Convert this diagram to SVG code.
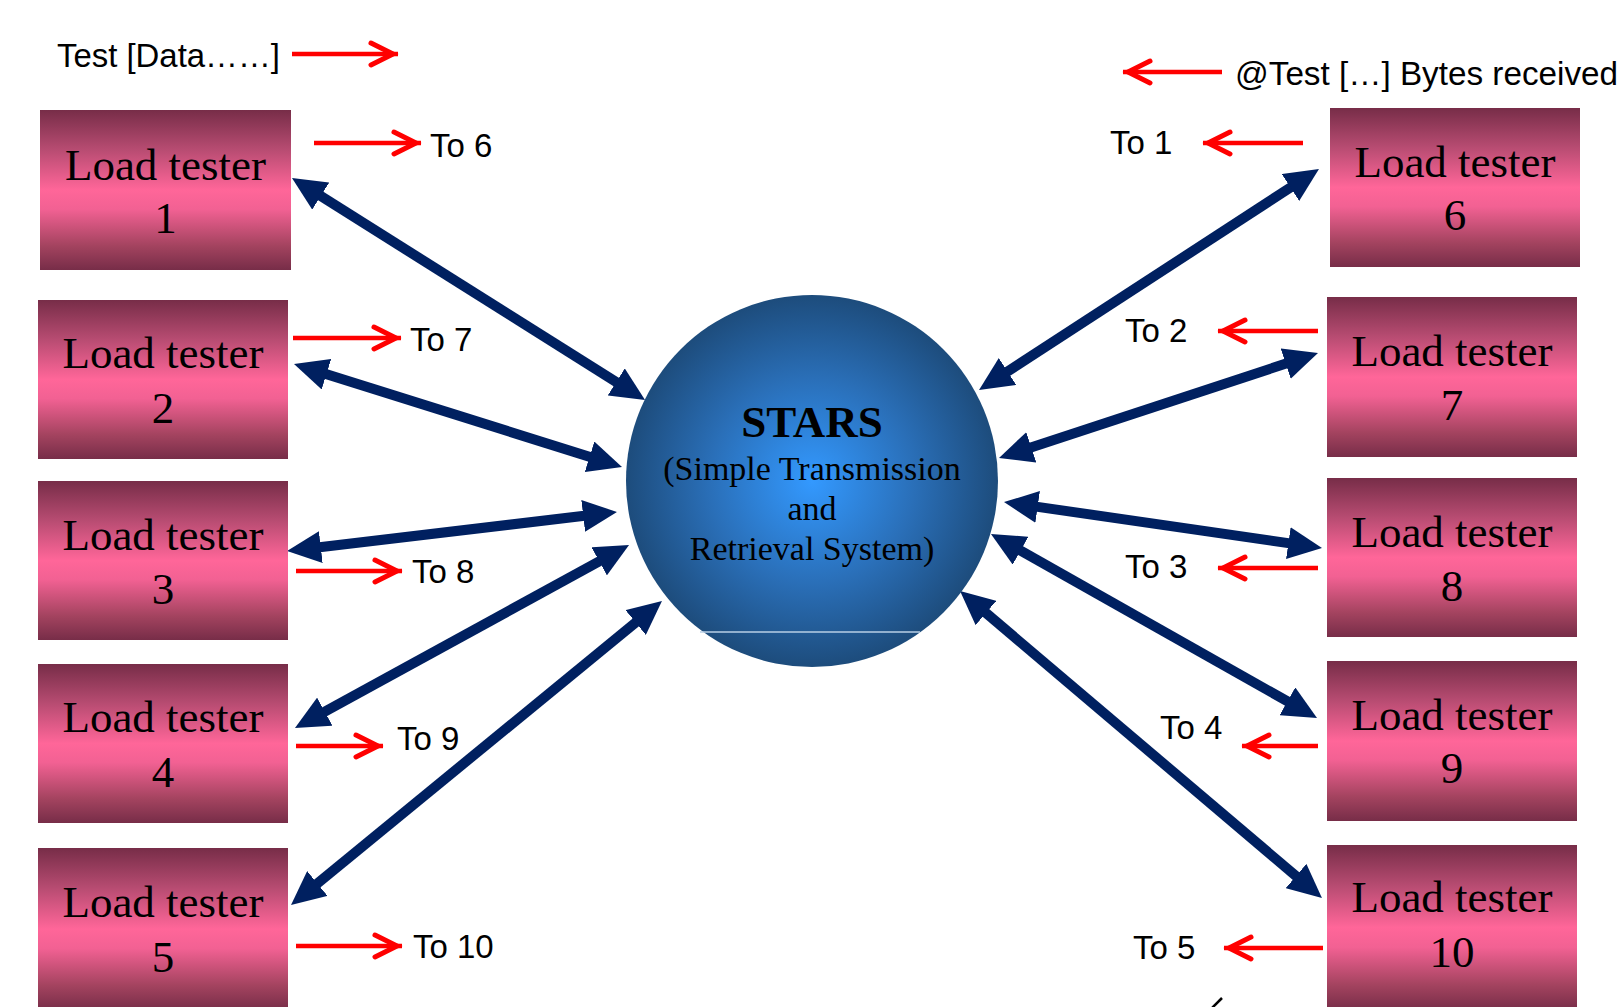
<svg xmlns="http://www.w3.org/2000/svg" width="1620" height="1007" viewBox="0 0 1620 1007">
<style>
.box{fill:url(#boxGrad)}
.lt{font-family:"Liberation Serif","Times New Roman",serif;font-size:45px;fill:#000;text-anchor:middle}
.lbl{font-family:"Liberation Sans",Arial,sans-serif;font-size:33px;fill:#000}
.nav{stroke:#002060;stroke-width:10;fill:none;marker-start:url(#navHead);marker-end:url(#navHead)}
.red{stroke:#ff0000;stroke-width:4.5;fill:none;marker-end:url(#redHead)}
.ct{font-family:"Liberation Serif","Times New Roman",serif;fill:#000;text-anchor:middle}
</style>
<defs>
<linearGradient id="boxGrad" x1="0" y1="0" x2="0" y2="1">
<stop offset="0" stop-color="#772d48"/>
<stop offset="0.25" stop-color="#b84c72"/>
<stop offset="0.5" stop-color="#ff6699"/>
<stop offset="0.62" stop-color="#f26193"/>
<stop offset="0.85" stop-color="#a3435f"/>
<stop offset="1" stop-color="#772d48"/>
</linearGradient>
<radialGradient id="circGrad" cx="0.5" cy="0.5" r="0.5">
<stop offset="0" stop-color="#3399ff"/>
<stop offset="0.55" stop-color="#2a6fb8"/>
<stop offset="1" stop-color="#1d4c7c"/>
</radialGradient>
<marker id="navHead" markerUnits="strokeWidth" markerWidth="3.4" markerHeight="3.2" refX="1.4" refY="1.6" orient="auto-start-reverse" viewBox="0 0 3.4 3.2">
<path d="M0,0 L3.4,1.6 L0,3.2 Z" fill="#002060"/>
</marker>
<marker id="redHead" markerUnits="userSpaceOnUse" markerWidth="40" markerHeight="40" refX="0" refY="0" orient="auto" viewBox="-30 -20 40 40" overflow="visible">
<path d="M-27,-11 L-5,0 L-27,11" fill="none" stroke="#ff0000" stroke-width="5" stroke-linecap="round" stroke-linejoin="miter"/>
</marker>
</defs>
<rect width="1620" height="1007" fill="#ffffff"/>

<g id="connectors">
<line class="nav" x1="308.9" y1="188.6" x2="628.1" y2="389.4"/>
<line class="nav" x1="313.1" y1="370" x2="602.9" y2="461"/>
<line class="nav" x1="306.9" y1="548.7" x2="597.1" y2="514.3"/>
<line class="nav" x1="312.5" y1="718.4" x2="611.5" y2="554.6"/>
<line class="nav" x1="306.5" y1="892.3" x2="646.5" y2="613.7"/>
<line class="nav" x1="995.8" y1="379.1" x2="1302.2" y2="179.9"/>
<line class="nav" x1="1018" y1="451.7" x2="1299" y2="359.3"/>
<line class="nav" x1="1023.8" y1="504.9" x2="1302.2" y2="545.1"/>
<line class="nav" x1="1008.4" y1="543.8" x2="1299.6" y2="708.2"/>
<line class="nav" x1="975.3" y1="603.9" x2="1306.7" y2="885.1"/>

<line class="red" x1="292" y1="54" x2="398" y2="54"/>
<line class="red" x1="314" y1="143" x2="421" y2="143"/>
<line class="red" x1="293" y1="338" x2="401" y2="338"/>
<line class="red" x1="296" y1="571" x2="402" y2="571"/>
<line class="red" x1="296" y1="746" x2="383" y2="746"/>
<line class="red" x1="296" y1="946" x2="402" y2="946"/>
<line class="red" x1="1222" y1="72" x2="1123" y2="72"/>
<line class="red" x1="1303" y1="143" x2="1203" y2="143"/>
<line class="red" x1="1318" y1="331" x2="1218" y2="331"/>
<line class="red" x1="1318" y1="568" x2="1218" y2="568"/>
<line class="red" x1="1318" y1="746" x2="1242" y2="746"/>
<line class="red" x1="1323" y1="948" x2="1224" y2="948"/>

<text class="lbl" x="57" y="67" textLength="223" lengthAdjust="spacingAndGlyphs">Test [Data……]</text>
<text class="lbl" x="1235" y="85" textLength="383" lengthAdjust="spacingAndGlyphs">@Test […] Bytes received</text>
<text class="lbl" x="430" y="157">To 6</text>
<text class="lbl" x="410" y="351">To 7</text>
<text class="lbl" x="412" y="583">To 8</text>
<text class="lbl" x="397" y="750">To 9</text>
<text class="lbl" x="413" y="958">To 10</text>
<text class="lbl" x="1110" y="154">To 1</text>
<text class="lbl" x="1125" y="342">To 2</text>
<text class="lbl" x="1125" y="578">To 3</text>
<text class="lbl" x="1160" y="739">To 4</text>
<text class="lbl" x="1133" y="959">To 5</text>
<line x1="1212" y1="1008" x2="1222" y2="998" stroke="#000" stroke-width="2.5"/>
</g>

<g id="stars">
<circle cx="812" cy="481" r="186" fill="url(#circGrad)"/>
<line x1="700" y1="632" x2="920" y2="632" stroke="#b8cfe6" stroke-width="1.5"/>
<text class="ct" x="812" y="437" font-size="45" font-weight="bold">STARS</text>
<text class="ct" x="812" y="480" font-size="34">(Simple Transmission</text>
<text class="ct" x="812" y="520" font-size="34">and</text>
<text class="ct" x="812" y="560" font-size="34">Retrieval System)</text>
</g>

<g id="lt1"><rect class="box" x="40" y="110" width="251" height="160"/><text class="lt" x="165.5" y="180">Load tester</text><text class="lt" x="165.5" y="233">1</text></g>
<g id="lt2"><rect class="box" x="38" y="300" width="250" height="159"/><text class="lt" x="163" y="368">Load tester</text><text class="lt" x="163" y="423">2</text></g>
<g id="lt3"><rect class="box" x="38" y="481" width="250" height="159"/><text class="lt" x="163" y="550">Load tester</text><text class="lt" x="163" y="604">3</text></g>
<g id="lt4"><rect class="box" x="38" y="664" width="250" height="159"/><text class="lt" x="163" y="732">Load tester</text><text class="lt" x="163" y="787">4</text></g>
<g id="lt5"><rect class="box" x="38" y="848" width="250" height="162"/><text class="lt" x="163" y="917">Load tester</text><text class="lt" x="163" y="972">5</text></g>
<g id="lt6"><rect class="box" x="1330" y="108" width="250" height="159"/><text class="lt" x="1455" y="177">Load tester</text><text class="lt" x="1455" y="230">6</text></g>
<g id="lt7"><rect class="box" x="1327" y="297" width="250" height="160"/><text class="lt" x="1452" y="366">Load tester</text><text class="lt" x="1452" y="420">7</text></g>
<g id="lt8"><rect class="box" x="1327" y="478" width="250" height="159"/><text class="lt" x="1452" y="547">Load tester</text><text class="lt" x="1452" y="601">8</text></g>
<g id="lt9"><rect class="box" x="1327" y="661" width="250" height="160"/><text class="lt" x="1452" y="730">Load tester</text><text class="lt" x="1452" y="783">9</text></g>
<g id="lt10"><rect class="box" x="1327" y="845" width="250" height="165"/><text class="lt" x="1452" y="912">Load tester</text><text class="lt" x="1452" y="967">10</text></g>
</svg>
